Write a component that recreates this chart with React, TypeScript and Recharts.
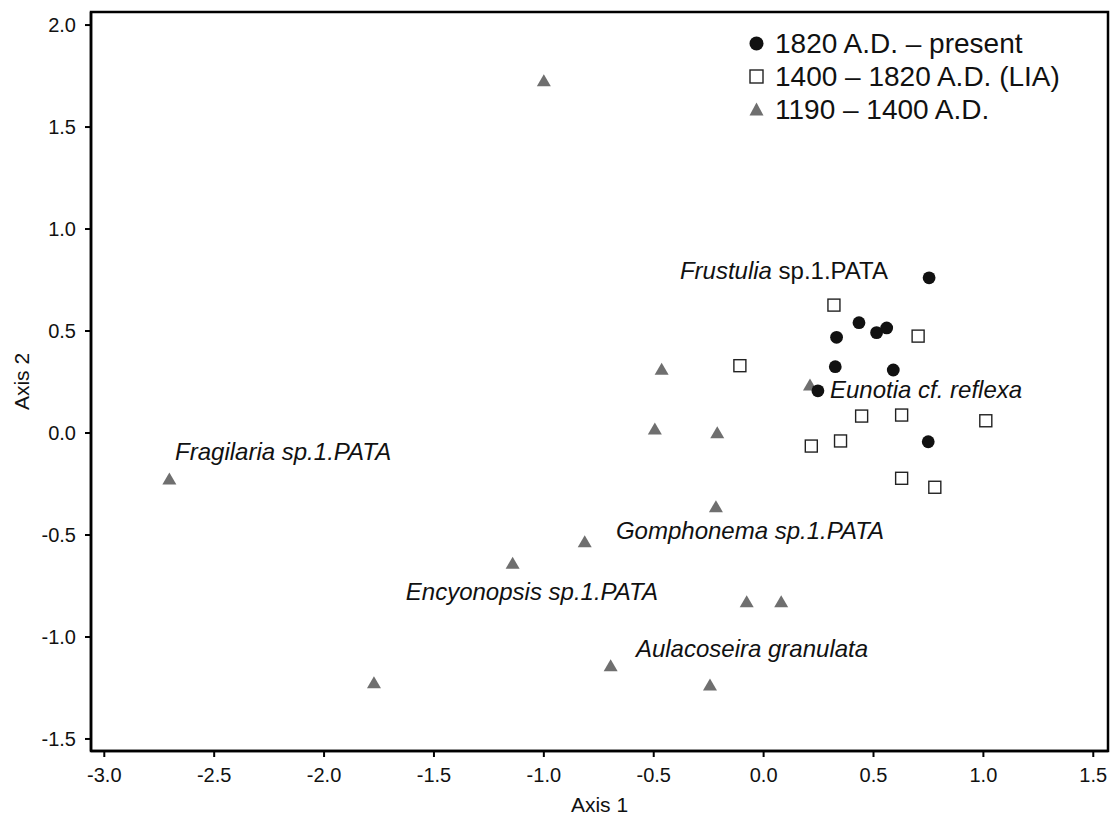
import React from 'react';
import {
  ScatterChart,
  Scatter,
  XAxis,
  YAxis,
  ReferenceArea,
  Legend,
} from 'recharts';

// sample scores (Axis 1, Axis 2) by period
const recentX = [0.753, 0.434, 0.332, 0.514, 0.56, 0.326, 0.59, 0.247, 0.749];
const recentY = [0.761, 0.541, 0.469, 0.492, 0.515, 0.325, 0.309, 0.207, -0.043];

const liaX = [0.32, 0.703, -0.108, 0.446, 0.628, 1.011, 0.217, 0.35, 0.628, 0.779];
const liaY = [0.627, 0.475, 0.33, 0.083, 0.088, 0.06, -0.064, -0.039, -0.222, -0.266];

const earlyX = [-1.0, -0.464, -0.495, -0.211, 0.211, -2.704, -1.773, -0.217, -0.814, -1.142, -0.077, 0.08, -0.696, -0.244];
const earlyY = [1.727, 0.312, 0.02, 0.001, 0.235, -0.225, -1.224, -0.361, -0.533, -0.639, -0.827, -0.827, -1.141, -1.235];

// taxon labels: start of text (x) and baseline (y) in axis units
const taxonNames = [
  'Fragilaria sp.1.PATA',
  'Frustulia',
  'Eunotia cf. reflexa',
  'Gomphonema sp.1.PATA',
  'Encyonopsis sp.1.PATA',
  'Aulacoseira granulata',
];
const taxonSuffix = ['', ' sp.1.PATA', '', '', '', ''];
const taxonX = [-2.678, -0.381, 0.302, -0.672, -1.628, -0.581];
const taxonY = [-0.132, 0.755, 0.172, -0.52, -0.819, -1.098];

const xTicks = [-3.0, -2.5, -2.0, -1.5, -1.0, -0.5, 0.0, 0.5, 1.0, 1.5];
const yTicks = [-1.5, -1.0, -0.5, 0.0, 0.5, 1.0, 1.5, 2.0];
const X_DOMAIN: [number, number] = [-3.0605, 1.567];
const Y_DOMAIN: [number, number] = [-1.559, 2.064];

const SERIES_RECENT = '1820 A.D. – present';
const SERIES_LIA = '1400 – 1820 A.D. (LIA)';
const SERIES_EARLY = '1190 – 1400 A.D.';
const legendOrder = [SERIES_RECENT, SERIES_LIA, SERIES_EARLY];

const toPoints = (xs: number[], ys: number[]) => xs.map((x, i) => ({ x, y: ys[i] }));
const recentData = toPoints(recentX, recentY);
const liaData = toPoints(liaX, liaY);
const earlyData = toPoints(earlyX, earlyY);
const taxonData = taxonNames.map((name, i) => ({
  x: taxonX[i],
  y: taxonY[i],
  name,
  suffix: taxonSuffix[i],
}));

const CIRCLE_FILL = '#111111';
const TRIANGLE_FILL = '#6f6f6f';
const FONT = '"Liberation Sans", Arial, Helvetica, sans-serif';

function CircleShape({ cx, cy }: any) {
  return <circle cx={cx} cy={cy} r={6.4} fill={CIRCLE_FILL} />;
}

function SquareShape({ cx, cy }: any) {
  return (
    <rect x={cx - 6} y={cy - 6} width={12} height={12} fill="#fff" stroke="#222" strokeWidth={1.4} />
  );
}

function TriangleShape({ cx, cy }: any) {
  return (
    <polygon
      points={`${cx},${cy - 6.5} ${cx - 7},${cy + 5.5} ${cx + 7},${cy + 5.5}`}
      fill={TRIANGLE_FILL}
    />
  );
}

function TaxonLabel({ cx, cy, payload }: any) {
  return (
    <text x={cx} y={cy} fontSize={24} fontFamily={FONT} fill="#111">
      <tspan fontStyle="italic">{payload.name}</tspan>
      {payload.suffix ? <tspan>{payload.suffix}</tspan> : null}
    </text>
  );
}

function LegendSymbol({ name }: { name: string }) {
  if (name === SERIES_RECENT) {
    return (
      <svg width={17} height={17}>
        <circle cx={8.5} cy={8.5} r={7} fill={CIRCLE_FILL} />
      </svg>
    );
  }
  if (name === SERIES_LIA) {
    return (
      <svg width={17} height={17}>
        <rect x={2} y={2} width={13} height={13} fill="#fff" stroke="#222" strokeWidth={1.4} />
      </svg>
    );
  }
  return (
    <svg width={17} height={17}>
      <polygon points="8.5,1.5 1.5,14.5 15.5,14.5" fill={TRIANGLE_FILL} />
    </svg>
  );
}

function PeriodLegend({ payload }: any) {
  const names = (payload || []).map((p: any) => p.value);
  const items = legendOrder.filter((n) => names.includes(n));
  return (
    <div style={{ fontFamily: FONT, fontSize: 28, color: '#111', lineHeight: '33px' }}>
      {items.map((name) => (
        <div key={name} style={{ display: 'flex', alignItems: 'center' }}>
          <LegendSymbol name={name} />
          <span style={{ marginLeft: 10, whiteSpace: 'nowrap' }}>{name}</span>
        </div>
      ))}
    </div>
  );
}

export default function App() {
  const tickStyle = { fill: '#111', fontSize: 20, fontFamily: FONT };
  return (
    <div style={{ position: 'absolute', left: 0, top: 0, fontFamily: FONT, background: '#fff' }}>
      <ScatterChart width={1111} height={816} margin={{ top: 12, right: 3, left: 0, bottom: 0 }}>
        <ReferenceArea
          x1={X_DOMAIN[0]}
          x2={X_DOMAIN[1]}
          y1={Y_DOMAIN[0]}
          y2={Y_DOMAIN[1]}
          fill="none"
          stroke="#000"
          strokeWidth={2.5}
          ifOverflow="extendDomain"
        />
        <XAxis
          type="number"
          dataKey="x"
          domain={X_DOMAIN}
          ticks={xTicks}
          allowDataOverflow
          height={65}
          fontSize={20}
          tickFormatter={(v: number) => v.toFixed(1)}
          tick={tickStyle}
          tickSize={6}
          tickMargin={11}
          axisLine={{ stroke: '#000', strokeWidth: 2.5 }}
          tickLine={{ stroke: '#000', strokeWidth: 2 }}
          label={({ viewBox }: any) => (
            <text
              x={viewBox.x + viewBox.width / 2}
              y={viewBox.y + viewBox.height - 4}
              textAnchor="middle"
              fontSize={21}
              fontFamily={FONT}
              fill="#111"
            >
              Axis 1
            </text>
          )}
        />
        <YAxis
          type="number"
          dataKey="y"
          domain={Y_DOMAIN}
          ticks={yTicks}
          allowDataOverflow
          width={91}
          fontSize={20}
          tickFormatter={(v: number) => v.toFixed(1)}
          tick={tickStyle}
          tickSize={6}
          tickMargin={9}
          axisLine={{ stroke: '#000', strokeWidth: 2.5 }}
          tickLine={{ stroke: '#000', strokeWidth: 2 }}
          label={({ viewBox }: any) => {
            const cx = 21;
            const cy = viewBox.y + viewBox.height / 2;
            return (
              <text
                x={cx}
                y={cy}
                transform={`rotate(-90, ${cx}, ${cy})`}
                textAnchor="middle"
                dominantBaseline="central"
                fontSize={21}
                fontFamily={FONT}
                fill="#111"
              >
                Axis 2
              </text>
            );
          }}
        />
        <Legend
          layout="vertical"
          align="center"
          verticalAlign="middle"
          content={<PeriodLegend />}
          wrapperStyle={{ left: 748, top: 27, width: 360 }}
        />
        <Scatter
          name={SERIES_EARLY}
          data={earlyData}
          fill={TRIANGLE_FILL}
          shape={<TriangleShape />}
          isAnimationActive={false}
        />
        <Scatter
          name={SERIES_LIA}
          data={liaData}
          fill="#fff"
          shape={<SquareShape />}
          isAnimationActive={false}
        />
        <Scatter
          name={SERIES_RECENT}
          data={recentData}
          fill={CIRCLE_FILL}
          shape={<CircleShape />}
          isAnimationActive={false}
        />
        <Scatter
          name="taxa"
          data={taxonData}
          legendType="none"
          shape={<TaxonLabel />}
          isAnimationActive={false}
        />
      </ScatterChart>
    </div>
  );
}
